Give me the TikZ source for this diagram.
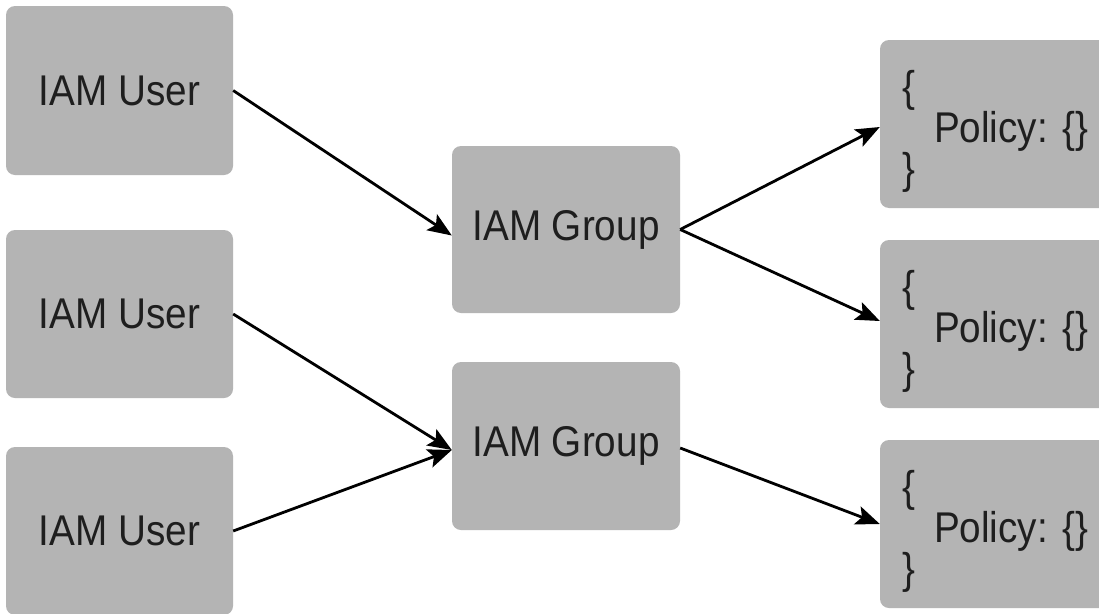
\documentclass[tikz,border=0pt]{standalone}
\usepackage{fontspec}
\setmainfont{Liberation Sans}[FakeStretch=0.9]
\usetikzlibrary{arrows.meta,calc}
\definecolor{boxgray}{HTML}{B4B4B4}
\definecolor{txt}{HTML}{1E1E1E}
\begin{document}
\begin{tikzpicture}[x=1pt,y=-1pt,
  box/.style={fill=boxgray, rounded corners=9pt, inner sep=0pt, text=txt,
    font=\fontsize{43}{43}\selectfont},
  userbox/.style={box, minimum width=227pt},
  groupbox/.style={box, minimum width=228pt},
  polbox/.style={box, minimum width=240pt, minimum height=168pt},
  poltext/.style={anchor=west, align=left, inner sep=0pt, text=txt,
    font=\fontsize{43}{37}\selectfont},
  conn/.style={line width=2.8pt, draw=black,
    -{Stealth[length=24pt,width=19pt,inset=5pt]}}]
\useasboundingbox (0,0) rectangle (1099,613);
\fill[white] (0,0) rectangle (1099,613);
\begin{scope}
\clip (0,0) rectangle (1099,613);
% users
\node[userbox, minimum height=169pt] (u1) at (119.5,90.5) {IAM User};
\node[userbox, minimum height=168pt] (u2) at (119.5,314) {IAM User};
\node[userbox, minimum height=168pt] (u3) at (119.5,531) {IAM User};
% groups
\node[groupbox, minimum height=167pt] (g1) at (566,229.5) {IAM Group};
\node[groupbox, minimum height=168pt] (g2) at (566,446) {IAM Group};
% policies
\node[polbox] (p1) at (1000,124) {};
\node[polbox] (p2) at (1000,324) {};
\node[polbox] (p3) at (1000,524) {};
\foreach \p in {p1,p2,p3}{
  \node[poltext] (\p t) at ($(\p.west)+(22,7)$)
    {\{\\\hspace*{32pt}Policy: \{\}\\\}};
}
\end{scope}
% connectors
\draw[conn] (u1.east) -- ($(g1.west)+(0,6)$);
\draw[conn] (u2.east) -- ($(g2.west)+(0,4)$);
\draw[conn] (u3.east) -- ($(g2.west)+(0,4)$);
\draw[conn] (g1.east) -- ($(p1.west)+(0,3)$);
\draw[conn] (g1.east) -- ($(p2.west)+(0,-3)$);
\draw[conn] ($(g2.east)+(0,2)$) -- (p3.west);
\end{tikzpicture}
\end{document}
